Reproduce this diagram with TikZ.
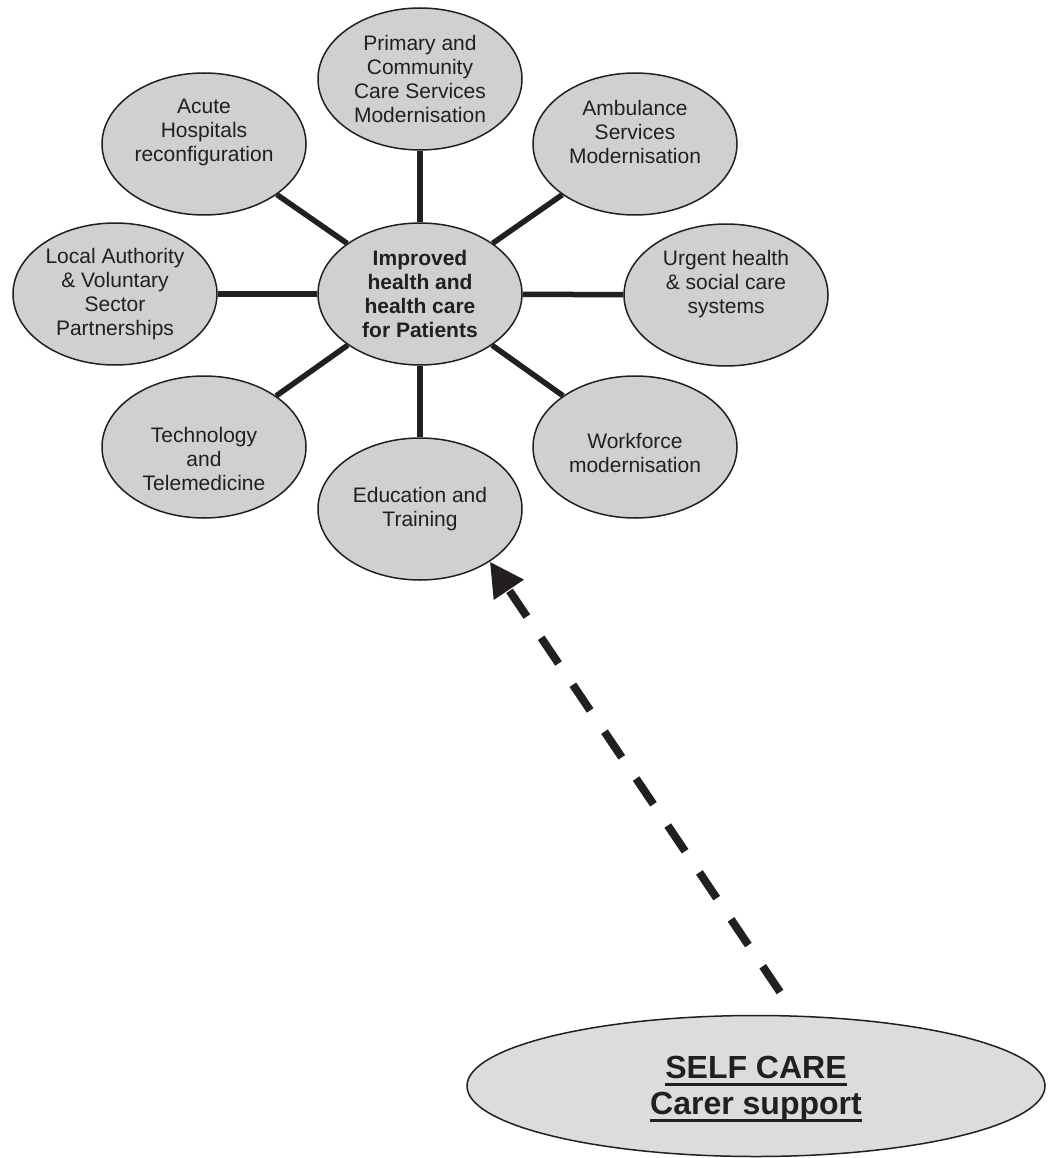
\documentclass[tikz,border=0pt]{standalone}
\usepackage{fontspec}
\setmainfont{Liberation Sans}
\usetikzlibrary{shapes.geometric,arrows.meta}
\definecolor{bubblegrey}{RGB}{208,208,208}
\definecolor{selfgrey}{RGB}{220,220,220}
\definecolor{inkblack}{RGB}{35,31,32}
% underline at a fixed depth, as a word processor draws it
\newcommand{\selfunder}[1]{\leavevmode\setbox0\hbox{#1}\rlap{\copy0}\rule[-7pt]{\wd0}{2.5pt}}
\tikzset{
  bubble/.style={ellipse,draw=inkblack,line width=1.5pt,fill=bubblegrey,
    minimum width=204pt,minimum height=142pt,inner sep=0pt},
  bubbletext/.style={align=center,text=inkblack,font=\fontsize{21}{24}\selectfont},
  spoke/.style={line width=5.5pt,draw=inkblack},
  selfarrow/.style={line width=8pt,draw=inkblack,dash pattern=on 31pt off 25.6pt,
    -{Triangle[length=34pt,width=34pt]}}
}
\begin{document}
\begin{tikzpicture}[x=1pt,y=1pt]
  \useasboundingbox (0,0) rectangle (1047,-1158);

  % hub and the eight bubbles round it
  \node[bubble,bubbletext,font=\bfseries\fontsize{21}{24}\selectfont] (hub) at (420,-294)
    {Improved\\health and\\health care\\for Patients};
  \node[bubble,bubbletext] (primary) at (420,-79)
    {Primary and\\Community\\Care Services\\Modernisation};
  \node[bubble,label={[bubbletext,yshift=12pt]center:Ambulance\\Services\\Modernisation}] (ambulance) at (635,-144) {};
  \node[bubble,label={[bubbletext,yshift=11pt]center:Urgent health\\\& social care\\systems}] (urgent) at (726,-295) {};
  \node[bubble,label={[bubbletext,yshift=-6pt]center:Workforce\\modernisation}] (workforce) at (635,-447) {};
  \node[bubble,bubbletext] (education) at (420,-509) {Education and\\Training};
  \node[bubble,label={[bubbletext,yshift=-12pt]center:Technology\\and\\Telemedicine}] (technology) at (204,-447) {};
  \node[bubble,bubbletext] (local) at (115,-294)
    {Local Authority\\\& Voluntary\\Sector\\Partnerships};
  \node[bubble,label={[bubbletext,yshift=12pt]center:Acute\\Hospitals\\reconfiguration}] (acute) at (204,-144) {};

  \foreach \spot in {primary,ambulance,urgent,workforce,education,technology,local,acute}
    \draw[spoke] (hub) -- (\spot);

  % self care
  \node[bubble,fill=selfgrey,minimum width=578pt,minimum height=141pt,
    label={[align=center,text=inkblack,font=\bfseries\fontsize{32}{36}\selectfont,yshift=-3pt]center:\selfunder{SELF CARE}\\\selfunder{Carer support}}] (selfcare) at (756,-1086) {};
  \coordinate (selfend) at (780,-992);
  \draw[selfarrow] (selfend) -- (education.-37);
\end{tikzpicture}
\end{document}
